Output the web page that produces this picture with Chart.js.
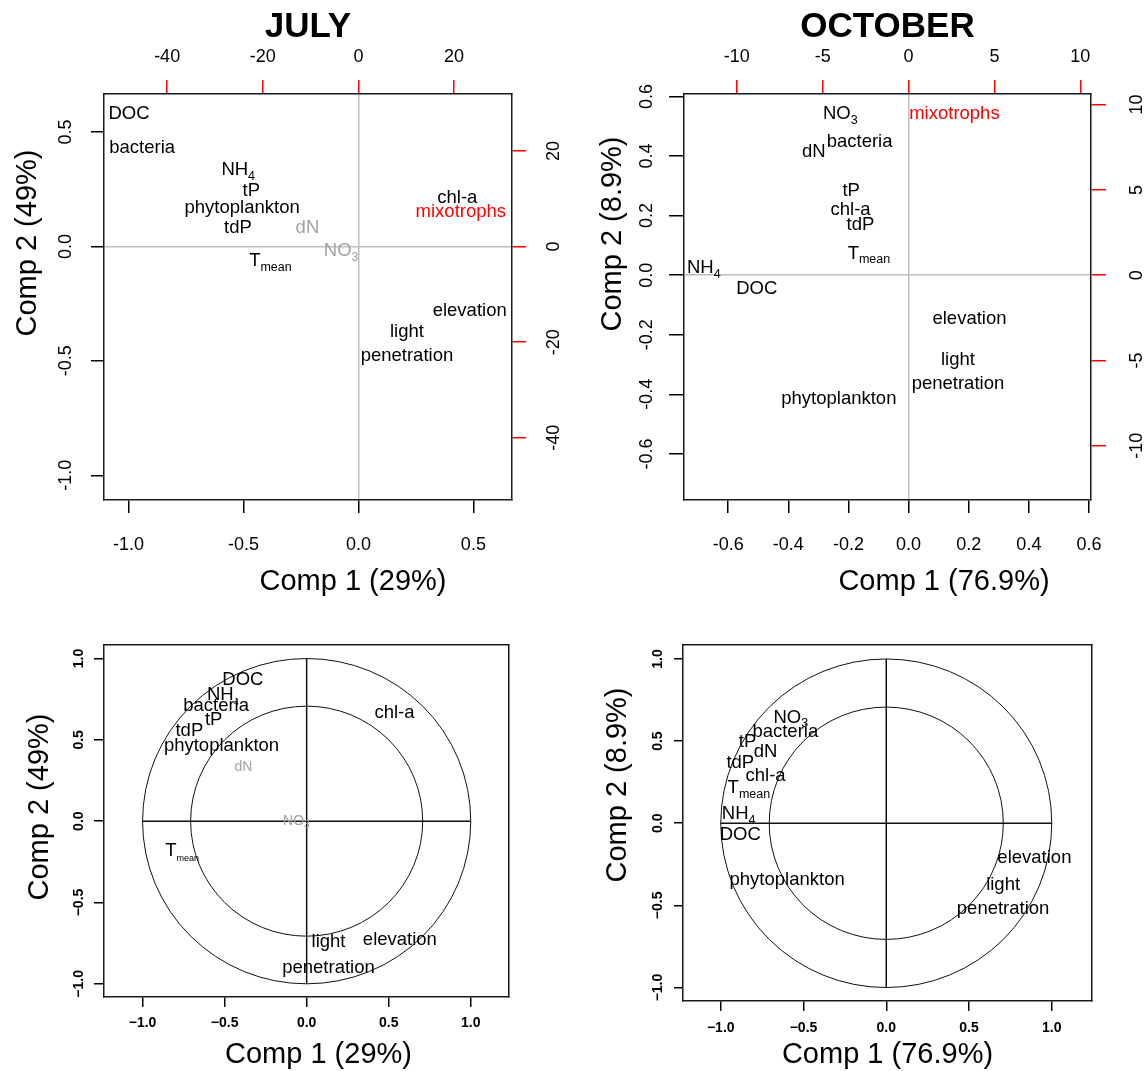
<!DOCTYPE html>
<html>
<head>
<meta charset="utf-8">
<script src="https://cdn.jsdelivr.net/npm/chart.js@4.4.1/dist/chart.umd.min.js"></script>
<style>
  html, body { margin: 0; padding: 0; background: #fff; }
  #page { position: relative; width: 1145px; height: 1071px; overflow: hidden; background: #fff; }
  canvas { position: absolute; }
</style>
</head>
<body>
<div id="page">
  <canvas id="julyBiplot" width="575" height="605" style="left:0;top:0"></canvas>
  <canvas id="octBiplot" width="570" height="605" style="left:575px;top:0"></canvas>
  <canvas id="julyCircle" width="575" height="461" style="left:0;top:610px"></canvas>
  <canvas id="octCircle" width="570" height="461" style="left:575px;top:610px"></canvas>
</div>
<script>
const FONT = '"Liberation Sans", Arial, Helvetica, sans-serif';

// ---- July biplot: variable loadings on Comp 1 / Comp 2 ----
const julyVars  = ['DOC', 'bacteria', 'NH4', 'tP', 'phytoplankton', 'tdP', 'Tmean', 'chl-a', 'elevation', 'light penetration'];
const julyComp1 = [-0.998, -0.941, -0.523, -0.466, -0.506, -0.524, -0.383, 0.430, 0.484, 0.211];
const julyComp2 = [ 0.588,  0.439,  0.341,  0.249,  0.173,  0.088, -0.058, 0.219, -0.275, -0.419];
// weakly contributing variables (grey)
const julyMinorVars  = ['dN', 'NO3'];
const julyMinorComp1 = [-0.222, -0.075];
const julyMinorComp2 = [ 0.088, -0.014];
// mixotroph score on the secondary (red) axes
const julyScoreNames = ['mixotrophs'];
const julyScore1 = [21.4];
const julyScore2 = [7.5];

// ---- October biplot ----
const octVars  = ['NO3', 'bacteria', 'dN', 'tP', 'chl-a', 'tdP', 'Tmean', 'NH4', 'DOC', 'elevation', 'light penetration', 'phytoplankton'];
const octComp1 = [-0.227, -0.163, -0.315, -0.191, -0.193, -0.160, -0.132, -0.681, -0.505, 0.2025, 0.164, -0.232];
const octComp2 = [ 0.545,  0.452,  0.420,  0.289,  0.225,  0.174,  0.078,  0.028, -0.040, -0.142, -0.321, -0.409];
const octScoreNames = ['mixotrophs'];
const octScore1 = [2.67];
const octScore2 = [9.56];

// ---- July correlation circle ----
const julyCorVars = ['DOC', 'NH4', 'bacteria', 'tP', 'tdP', 'phytoplankton', 'Tmean', 'chl-a', 'elevation', 'light penetration'];
const julyCor1 = [-0.389, -0.511, -0.552, -0.567, -0.715, -0.519, -0.759, 0.535, 0.568, 0.133];
const julyCor2 = [ 0.881,  0.785,  0.717,  0.635,  0.567,  0.471, -0.175, 0.676, -0.719, -0.811];
const julyCorMinorVars = ['dN', 'NO3'];
const julyCorMinor1 = [-0.385, -0.063];
const julyCorMinor2 = [ 0.337,  0.009];

// ---- October correlation circle ----
const octCorVars = ['NO3', 'bacteria', 'tP', 'dN', 'tdP', 'chl-a', 'Tmean', 'NH4', 'DOC', 'elevation', 'light penetration', 'phytoplankton'];
const octCor1 = [-0.577, -0.610, -0.838, -0.729, -0.882, -0.729, -0.830, -0.892, -0.882, 0.895, 0.706, -0.599];
const octCor2 = [ 0.653,  0.568,  0.507,  0.442,  0.379,  0.300,  0.223,  0.065, -0.061, -0.203, -0.438, -0.335];

// ---- tick values and labels ----
const julyLoadTicks = [-1.0, -0.5, 0.0, 0.5];
const julyLoadTickLabels = ['-1.0', '-0.5', '0.0', '0.5'];
const julyScoreTicks = [-40, -20, 0, 20];
const julyScoreTickLabels = ['-40', '-20', '0', '20'];
const octLoadTicks = [-0.6, -0.4, -0.2, 0.0, 0.2, 0.4, 0.6];
const octLoadTickLabels = ['-0.6', '-0.4', '-0.2', '0.0', '0.2', '0.4', '0.6'];
const octScoreTicks = [-10, -5, 0, 5, 10];
const octScoreTickLabels = ['-10', '-5', '0', '5', '10'];
const corTicks = [-1.0, -0.5, 0.0, 0.5, 1.0];
const corTickLabels = ['\u22121.0', '\u22120.5', '0.0', '0.5', '1.0'];

// ---- text helpers ----
const SUBSCRIPTS = { NH4: ['NH', '4'], NO3: ['NO', '3'], Tmean: ['T', 'mean'] };
const MULTILINE = { 'light penetration': ['light', 'penetration'] };

function drawVarLabel(ctx, name, x, y, st) {
  const lines = MULTILINE[name] || [name];
  ctx.save();
  ctx.fillStyle = st.color;
  ctx.textBaseline = 'alphabetic';
  ctx.textAlign = 'left';
  lines.forEach((line, k) => {
    const cy = y + (k - (lines.length - 1) / 2) * st.lineGap;
    const base = cy + st.size * 0.36;
    const parts = SUBSCRIPTS[line] || [line, ''];
    ctx.font = st.size + 'px ' + FONT;
    const wMain = ctx.measureText(parts[0]).width;
    ctx.font = st.subSize + 'px ' + FONT;
    const wSub = parts[1] ? ctx.measureText(parts[1]).width : 0;
    const left = x - (wMain + wSub) / 2;
    ctx.font = st.size + 'px ' + FONT;
    ctx.fillText(parts[0], left, base);
    if (parts[1]) {
      ctx.font = st.subSize + 'px ' + FONT;
      ctx.fillText(parts[1], left + wMain, base + st.size * 0.25);
    }
  });
  ctx.restore();
}

function maxLabelWidth(labels, size, weight) {
  const c = document.createElement('canvas').getContext('2d');
  c.font = (weight ? weight + ' ' : '') + size + 'px ' + FONT;
  return Math.max(...labels.map(l => c.measureText(l).width));
}

// a linear axis with a fixed thickness and R-style tick placement
function linearAxis(o) {
  const vertical = o.position === 'left' || o.position === 'right';
  const hasTicks = !!o.values;
  let pad = 0;
  if (hasTicks) {
    pad = vertical
      ? o.gap - o.tickLen - maxLabelWidth(o.labels, o.fontSize, o.fontWeight) / 2
      : o.gap - o.tickLen - o.fontSize * 1.2 / 2;
  }
  const axis = {
    type: 'linear',
    position: o.position,
    min: o.min,
    max: o.max,
    bounds: 'data',
    afterFit: s => { if (vertical) s.width = o.thickness; else s.height = o.thickness; },
    ticks: {
      display: hasTicks,
      autoSkip: false,
      padding: pad,
      color: '#000',
      font: { family: FONT, size: o.fontSize || 12, weight: o.fontWeight || 'normal' },
      minRotation: vertical ? 90 : 0,
      maxRotation: vertical ? 90 : 0,
      crossAlign: vertical ? 'center' : 'near',
      callback: (v, i) => hasTicks ? o.labels[i] : ''
    },
    grid: {
      display: true,
      drawOnChartArea: !!o.zeroLine,
      drawTicks: hasTicks,
      tickLength: o.tickLen || 0,
      tickColor: o.tickColor || '#000',
      tickWidth: 1.5,
      lineWidth: 1.5,
      color: c => (o.zeroLine && c.tick && c.tick.value === 0) ? o.zeroLine : 'rgba(0,0,0,0)'
    },
    border: { display: true, color: '#1a1a1a', width: 1.5 },
    title: o.title
      ? { display: true, text: o.title, color: '#000', font: { family: FONT, size: 35, weight: 'bold' }, padding: { top: 6.5, bottom: 0 } }
      : { display: false }
  };
  if (hasTicks) axis.afterBuildTicks = s => { s.ticks = o.values.map(v => ({ value: v })); };
  return axis;
}

function points(xs, ys) { return xs.map((x, i) => ({ x: x, y: ys[i] })); }

function labelSet(names, xs, ys, style, xAxis, yAxis) {
  return {
    data: points(xs, ys),
    names: names,
    textStyle: style,
    xAxisID: xAxis || 'x',
    yAxisID: yAxis || 'y',
    pointRadius: 0,
    pointHoverRadius: 0,
    showLine: false
  };
}

const labelPlugin = {
  id: 'varLabels',
  afterDatasetsDraw(chart) {
    chart.data.datasets.forEach((ds, i) => {
      const meta = chart.getDatasetMeta(i);
      meta.data.forEach((pt, j) => drawVarLabel(chart.ctx, ds.names[j], pt.x, pt.y, ds.textStyle));
    });
  }
};

const circlePlugin = {
  id: 'corrCircle',
  beforeDatasetsDraw(chart, args, opts) {
    if (!opts || !opts.radii) return;
    const ctx = chart.ctx;
    const sx = chart.scales.x, sy = chart.scales.y;
    const cx = sx.getPixelForValue(0), cy = sy.getPixelForValue(0);
    ctx.save();
    ctx.strokeStyle = '#111';
    ctx.lineWidth = 1;
    opts.radii.forEach(r => {
      ctx.beginPath();
      ctx.ellipse(cx, cy, sx.getPixelForValue(r) - cx, cy - sy.getPixelForValue(r), 0, 0, 2 * Math.PI);
      ctx.stroke();
    });
    ctx.lineWidth = 1.5;
    ctx.beginPath();
    ctx.moveTo(sx.getPixelForValue(-1), cy);
    ctx.lineTo(sx.getPixelForValue(1), cy);
    ctx.moveTo(cx, sy.getPixelForValue(-1));
    ctx.lineTo(cx, sy.getPixelForValue(1));
    ctx.stroke();
    ctx.restore();
  }
};

const compTitlePlugin = {
  id: 'compTitles',
  afterDraw(chart, args, o) {
    const ctx = chart.ctx, a = chart.chartArea;
    ctx.save();
    ctx.fillStyle = '#000';
    ctx.font = o.size + 'px ' + FONT;
    ctx.textAlign = 'center';
    ctx.textBaseline = 'middle';
    ctx.fillText(o.x, (a.left + a.right) / 2 + o.xShift, a.bottom + o.xDrop);
    ctx.translate(a.left + o.yShift, (a.top + a.bottom) / 2 + o.yLift);
    ctx.rotate(-Math.PI / 2);
    ctx.fillText(o.y, 0, 0);
    ctx.restore();
  }
};

function makeChart(id, datasets, scales, titles, radii) {
  return new Chart(document.getElementById(id), {
    type: 'scatter',
    data: { datasets: datasets },
    options: {
      responsive: false,
      animation: false,
      events: [],
      layout: { padding: 0 },
      scales: scales,
      plugins: {
        legend: { display: false },
        tooltip: { enabled: false },
        compTitles: Object.assign({ size: 29 }, titles),
        corrCircle: { radii: radii || null }
      }
    },
    plugins: [circlePlugin, labelPlugin, compTitlePlugin]
  });
}

const bigText = { size: 18.5, subSize: 12.5, color: '#000', lineGap: 24 };
const greyText = { size: 18.5, subSize: 12.5, color: '#a3a3a3', lineGap: 24 };
const redText = { size: 18.5, subSize: 12.5, color: '#ff0000', lineGap: 24 };

// July biplot
makeChart('julyBiplot', [
  labelSet(julyMinorVars, julyMinorComp1, julyMinorComp2, greyText),
  labelSet(julyVars, julyComp1, julyComp2, bigText),
  labelSet(julyScoreNames, julyScore1, julyScore2, redText, 'x2', 'y2')
], {
  x:  linearAxis({ position: 'bottom', min: -1.107, max: 0.668, values: julyLoadTicks, labels: julyLoadTickLabels, tickLen: 13, fontSize: 18, gap: 45, thickness: 105, zeroLine: '#bebebe' }),
  y:  linearAxis({ position: 'left', min: -1.108, max: 0.666, values: julyLoadTicks, labels: julyLoadTickLabels, tickLen: 13, fontSize: 18, gap: 38, thickness: 104, zeroLine: '#bebebe' }),
  x2: linearAxis({ position: 'top', min: -53.2, max: 32.1, values: julyScoreTicks, labels: julyScoreTickLabels, tickLen: 14, tickColor: '#ff0000', fontSize: 18, gap: 37.3, thickness: 94, title: 'JULY' }),
  y2: linearAxis({ position: 'right', min: -53.0, max: 31.9, values: julyScoreTicks, labels: julyScoreTickLabels, tickLen: 14, tickColor: '#ff0000', fontSize: 18, gap: 41.6, thickness: 63 })
}, { x: 'Comp 1 (29%)', y: 'Comp 2 (49%)', xShift: 45, xDrop: 82, yShift: -76, yLift: -54 });

// October biplot
makeChart('octBiplot', [
  labelSet(octVars, octComp1, octComp2, bigText),
  labelSet(octScoreNames, octScore1, octScore2, redText, 'x2', 'y2')
], {
  x:  linearAxis({ position: 'bottom', min: -0.747, max: 0.6066, values: octLoadTicks, labels: octLoadTickLabels, tickLen: 13, fontSize: 18, gap: 45, thickness: 105, zeroLine: '#bebebe' }),
  y:  linearAxis({ position: 'left', min: -0.7545, max: 0.608, values: octLoadTicks, labels: octLoadTickLabels, tickLen: 15, fontSize: 18, gap: 36.8, thickness: 109, zeroLine: '#bebebe' }),
  x2: linearAxis({ position: 'top', min: -13.07, max: 10.62, values: octScoreTicks, labels: octScoreTickLabels, tickLen: 14, tickColor: '#ff0000', fontSize: 18, gap: 37.3, thickness: 94, title: 'OCTOBER' }),
  y2: linearAxis({ position: 'right', min: -13.18, max: 10.62, values: octScoreTicks, labels: octScoreTickLabels, tickLen: 15, tickColor: '#ff0000', fontSize: 18, gap: 46, thickness: 54 })
}, { x: 'Comp 1 (76.9%)', y: 'Comp 2 (8.9%)', xShift: 56.5, xDrop: 82, yShift: -71.5, yLift: -63 });

// July correlation circle
makeChart('julyCircle', [
  labelSet(julyCorMinorVars, julyCorMinor1, julyCorMinor2, { size: 14, subSize: 10, color: '#a3a3a3', lineGap: 20 }),
  labelSet(julyCorVars, julyCor1, julyCor2, { size: 18.5, subSize: 9, color: '#000', lineGap: 26 })
], {
  x:  linearAxis({ position: 'bottom', min: -1.235, max: 1.233, values: corTicks, labels: corTickLabels, tickLen: 10, fontSize: 14, fontWeight: 'bold', gap: 26.3, thickness: 74 }),
  y:  linearAxis({ position: 'left', min: -1.081, max: 1.083, values: corTicks, labels: corTickLabels, tickLen: 10, fontSize: 14, fontWeight: 'bold', gap: 24.6, thickness: 104 }),
  x2: linearAxis({ position: 'top', min: -1.235, max: 1.233, thickness: 35 }),
  y2: linearAxis({ position: 'right', min: -1.081, max: 1.083, thickness: 66 })
}, { x: 'Comp 1 (29%)', y: 'Comp 2 (49%)', xShift: 12, xDrop: 58, yShift: -64.5, yLift: -14 }, [1, Math.SQRT1_2]);

// October correlation circle
makeChart('octCircle', [
  labelSet(octCorVars, octCor1, octCor2, { size: 18.5, subSize: 12.5, color: '#000', lineGap: 24 })
], {
  x:  linearAxis({ position: 'bottom', min: -1.228, max: 1.243, values: corTicks, labels: corTickLabels, tickLen: 10, fontSize: 14, fontWeight: 'bold', gap: 27, thickness: 70 }),
  y:  linearAxis({ position: 'left', min: -1.082, max: 1.085, values: corTicks, labels: corTickLabels, tickLen: 9, fontSize: 14, fontWeight: 'bold', gap: 25.2, thickness: 108 }),
  x2: linearAxis({ position: 'top', min: -1.228, max: 1.243, thickness: 35 }),
  y2: linearAxis({ position: 'right', min: -1.082, max: 1.085, thickness: 53 })
}, { x: 'Comp 1 (76.9%)', y: 'Comp 2 (8.9%)', xShift: 0, xDrop: 54, yShift: -65.5, yLift: -38 }, [1, Math.SQRT1_2]);
</script>
</body>
</html>
